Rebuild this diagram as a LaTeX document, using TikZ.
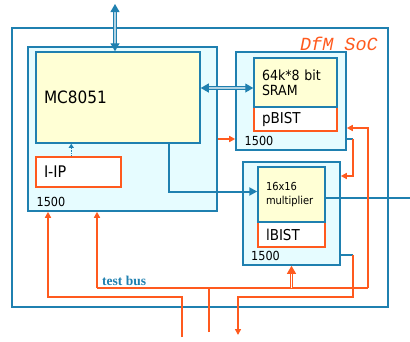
\documentclass[tikz,border=0pt]{standalone}
\usepackage{fontspec}
\setmainfont{DejaVu Sans Condensed}
\newfontfamily\busfont{Liberation Serif}
\newfontfamily\socfont{Liberation Mono}
\usetikzlibrary{arrows.meta}
\definecolor{socblue}{RGB}{31,128,176}
\definecolor{socorange}{RGB}{255,90,30}
\definecolor{wrapfill}{RGB}{230,252,255}
\definecolor{corefill}{RGB}{255,255,213}
\begin{document}
\begin{tikzpicture}[x=1pt,y=-1pt,
  wrapper/.style={draw=socblue, fill=wrapfill, line width=1.6pt, inner sep=0pt},
  core/.style={draw=socblue, fill=corefill, line width=1.5pt, inner xsep=8pt, inner ysep=0pt, align=left},
  bist/.style={draw=socorange, fill=white, line width=1.5pt, inner xsep=8pt, inner ysep=0pt, align=left},
  num/.style={anchor=base west, inner sep=0pt, font=\fontsize{12.5}{14}\selectfont},
  link/.style={socblue, line width=2pt},
  tbus/.style={socorange, line width=1.6pt},
  tip/.style={-{Triangle[length=6pt,width=6pt]}},
  dbl/.style={draw=socblue, double=socblue!35, double distance=1.6pt, line width=1.1pt,
    {Triangle[length=8pt,width=9pt]}-{Triangle[length=8pt,width=9pt]}}]
\useasboundingbox (0,0) rectangle (410,341);
\node[draw=socblue, fill=white, line width=1.6pt, minimum width=376pt, minimum height=279pt] (soc) at (200,167.5) {};
\node[anchor=base east, inner sep=0pt, text=socorange, font=\socfont\itshape\fontsize{18.5}{20}\selectfont] (soclabel) at (378,50) {DfM SoC};

\node[wrapper, minimum width=189pt, minimum height=164pt] (lblk) at (122.5,129) {};
\node[core, text width=148pt, minimum height=91pt, font=\fontsize{17}{20}\selectfont] (mc) at (118,97.5) {MC8051};
\node[bist, text width=69pt, minimum height=30pt, font=\fontsize{16}{18}\selectfont] (iip) at (78.5,172) {I-IP};
\node[num] (n1) at (36.5,206.5) {1500};

\node[wrapper, minimum width=110pt, minimum height=98pt] (sblk) at (291,101) {};
\node[bist, text width=67pt, minimum height=24pt, font=\fontsize{15}{17}\selectfont] (pbist) at (295.5,119) {pBIST};
\node[core, text width=67pt, minimum height=49pt, font=\fontsize{14}{15}\selectfont] (sram) at (295.5,82.5) {64k*8 bit\\SRAM};
\node[num] (n2) at (244.5,145.5) {1500};

\node[wrapper, minimum width=97pt, minimum height=103pt] (mblk) at (291.5,213.5) {};
\node[bist, text width=51pt, minimum height=25pt, font=\fontsize{15}{17}\selectfont] (lbist) at (291.5,234.5) {lBIST};
\node[core, text width=51pt, minimum height=55pt, font=\fontsize{11}{13.5}\selectfont] (mult) at (291.5,194.5) {16x16\\multiplier};
\node[num] (n3) at (251,260.5) {1500};

\node[anchor=base west, inner sep=0pt, text=socblue, font=\busfont\bfseries\fontsize{13.5}{15}\selectfont] (buslabel) at (102,285) {test bus};

% functional connections
\coordinate (ext) at (115,4);
\draw[dbl] (ext) -- (ext |- mc.north);
\coordinate (mcport) at ([yshift=9.5pt]mc.east);
\draw[dbl] (mcport) -- (mcport -| sram.west);
\draw[socblue, line width=1.3pt, densely dotted, -{Triangle[length=4pt,width=5pt]}] ([xshift=36pt]iip.north west) -- ([xshift=36pt]mc.south west);
\draw[link, -{Triangle[length=8pt,width=8pt]}] ([xshift=134pt]mc.south west) |- ([yshift=3pt]mult.west);
\coordinate (out) at (410,197.5);
\draw[link] (mult.east |- out) -- (out);

% test access
\coordinate (tbl) at (97,288);
\coordinate (tbr) at (368,288);
\coordinate (tin) at (209,332);
\coordinate (tin2) at (182,337);
\coordinate (tout) at (238,335);
\draw[tbus] (tbl) -- (tbr);
\draw[tbus, line width=2.2pt] (tin) -- (tin |- tbl);
\draw[tbus, tip] (tbl) -- (tbl |- lblk.south);
\draw[tbus, line width=2.2pt, tip] (tbr) |- ([yshift=-27pt]sblk.east);
\draw[socorange, double=white, double distance=1.4pt, line width=1.1pt, -{Triangle[length=8pt,width=9pt]}] (mblk.south |- tbl) -- (mblk.south);
\draw[tbus, tip] (tin2) -- ++(0,-40) -| ([xshift=-74.5pt]lblk.south);
\draw[tbus, tip] ([yshift=-10pt]lblk.east) -- ([yshift=-10pt]lblk.east -| sblk.west);
\draw[link, line width=1.4pt] ([yshift=-38pt]sblk.east) -- ++(6,0) coordinate (s1);
\draw[tbus, tip] (s1) |- ([yshift=37.5pt]mblk.east);
\draw[link, line width=1.4pt] ([yshift=-41.5pt]mblk.east) -- ++(12,0) coordinate (m1);
\draw[tbus, tip] (m1) |- ([yshift=38pt]tout) -- (tout);
\end{tikzpicture}
\end{document}
